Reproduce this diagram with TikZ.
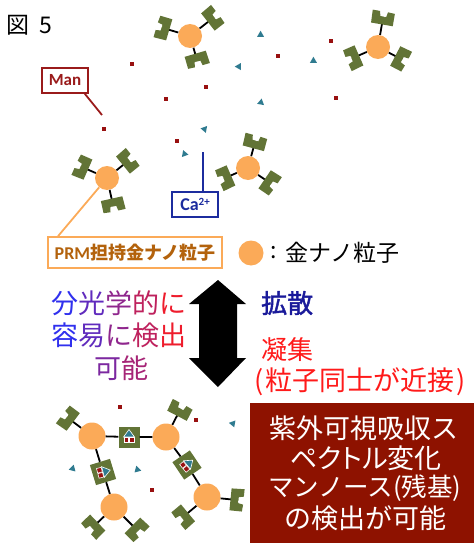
\documentclass[tikz,border=0pt]{standalone}
\usepackage{fontspec}
\usetikzlibrary{calc}
\newfontfamily\jp{Noto Sans CJK JP}
\newfontfamily\jpsb[FakeBold=1.6]{Noto Sans CJK JP}
\newfontfamily\jpp[RawFeature=+palt]{Noto Sans CJK JP}
\newfontfamily\lat{Carlito}
\definecolor{gold}{HTML}{FBAA58}
\definecolor{leaf}{HTML}{627436}
\definecolor{cTeal}{HTML}{2F7B90}
\definecolor{cDot}{HTML}{981010}
\definecolor{cMan}{HTML}{9A1B1B}
\definecolor{cCa}{HTML}{1C2C9E}
\definecolor{cPRMtext}{HTML}{B3620C}
\definecolor{cNavy}{HTML}{1A1A9A}
\definecolor{cRed}{HTML}{FF1A1A}
\definecolor{cBox}{HTML}{8E1200}
\definecolor{gBlue}{HTML}{3030EE}
\definecolor{gRed}{HTML}{EE1C2C}
% colour one glyph of the blue-to-red gradient text
\newcommand\gc[2]{\textcolor{gRed!#1!gBlue}{#2}}
% stick from a gold particle to a lectin, lectin turned to face outwards
\newcommand\lectinarm[2]{%
  \draw[stick] (#1) -- (#2);
  \path let \p1=($(#2)-(#1.center)$), \n1={atan2(\y1,\x1)} in
    pic[rotate=\n1] at (#2) {lectin};
}
\tikzset{
  np/.style={circle,fill=gold,inner sep=0pt,minimum size=24pt},
  npbig/.style={np,minimum size=27pt},
  stick/.style={line width=1.8pt,black},
  txt/.style={inner sep=0pt},
  lbl/.style={draw,line width=1.8pt,inner sep=0pt,fill=white},
  cplx/.style={rectangle,fill=leaf,minimum size=21pt,inner sep=0pt},
  lectin/.pic={
    \fill[leaf] (-6.5,-11) -- (6.5,-11.5) -- (6.5,-4) -- (1.5,-3) -- (1.5,3)
      -- (6.5,4) -- (6,11) -- (-6.5,11) -- cycle;
    \fill[white] (2.5,1.5) circle (1.3);
  },
  mol/.pic={
    \path[fill=cTeal,draw=white,line width=0.6pt]
      (-5.5,0) -- (5.5,0) -- (0,-7.5) -- cycle;
    \path[fill=cDot,draw=white,line width=0.6pt] (-5,0.6) rectangle (-0.3,5.4);
    \path[fill=cDot,draw=white,line width=0.6pt] (0.3,0.6) rectangle (5,5.4);
  },
  ion/.pic={\fill[cTeal] (3.5,0) -- (-2.5,-3.5) -- (-2.5,3.5) -- cycle;}
}
\begin{document}
\begin{tikzpicture}[x=1pt,y=-1pt]
\useasboundingbox (0,0) rectangle (474,543);

\node[txt,anchor=west] (fig) at (6,25.5) {\jp\fontsize{23}{23}\selectfont 図\hspace{10pt}5};

% free mannose (dots) and calcium ions (triangles)
\foreach \x/\y in {132/64,206/87,166/99,104/129,177/141,278/56,331/41,336/98,
                   120/407,196/420,152/490}
  \fill[cDot] (\x,\y) ++(-2,-2) rectangle ++(4,4);
\foreach \x/\y/\a in {261/35/-30,313/61/210,239/67/-60,261/102/80,204/129/170,
                      185/154/-10,233/424/-70,73/469/-45,137/470/225}
  \pic[rotate=\a] at (\x,\y) {ion};

% dispersed PRM-modified gold nanoparticles
\node[np] (p1) at (190,36) {};
\coordinate (p1a) at (163,28); \coordinate (p1b) at (213,18); \coordinate (p1c) at (197,60);
\node[np] (p2) at (378,47) {};
\coordinate (p2a) at (383,18); \coordinate (p2b) at (353,58); \coordinate (p2c) at (401,59);
\node[np] (p3) at (107,178) {};
\coordinate (p3a) at (82,167); \coordinate (p3b) at (128,161); \coordinate (p3c) at (113,205);
\node[np] (p4) at (248,168) {};
\coordinate (p4a) at (255,142); \coordinate (p4b) at (225,178); \coordinate (p4c) at (270,183);
\foreach \q in {p1,p2,p3,p4}{
  \lectinarm{\q}{\q a}\lectinarm{\q}{\q b}\lectinarm{\q}{\q c}
}

% labels
\node[lbl,draw=cMan,text=cMan,minimum width=46pt,minimum height=25pt] (man) at (65,80.5)
  {\lat\bfseries\fontsize{17}{17}\selectfont Man};
\coordinate (manend) at (102,115);
\draw[cMan,line width=1.8pt] ([xshift=-4pt]man.south east) -- (manend);

\node[lbl,draw=cCa,text=cCa,minimum width=46pt,minimum height=25pt] (ca) at (195,204.5)
  {\lat\bfseries\fontsize{18}{18}\selectfont Ca\raisebox{5pt}{\fontsize{11}{11}\selectfont 2+}};
\coordinate (caend) at (203,152);
\draw[cCa,line width=1.8pt] (caend) -- (caend |- ca.north);

\node[lbl,draw=gold,minimum width=174pt,minimum height=31pt] (prm) at (135,252.5)
  {\color{cPRMtext}\bfseries\fontsize{18}{18}\selectfont{\lat PRM}{\jp 担持金ナノ粒子}};
\draw[gold,line width=1.8pt] ([xshift=11pt]prm.north west) -- (p3);

% legend
\node[np,minimum size=25pt] (lg) at (251,253) {};
\node[txt] (lgcolon) at (274,253) {\jp\fontsize{23}{23}\selectfont :};
\node[txt,anchor=west] (lgtext) at (285,253) {\jp\fontsize{23}{23}\selectfont 金ナノ粒子};

% double arrow
\fill (218,280) -- (246,304) -- (237,304) -- (237,358) -- (246,358) -- (218,387)
  -- (189,358) -- (199,358) -- (199,304) -- (189,304) -- cycle;

% left caption, blue to red
\node[txt] (opt1) at (119,303) {\jp\fontsize{27}{27}\selectfont
  \gc{0}{分}\gc{25}{光}\gc{50}{学}\gc{75}{的}\gc{100}{に}};
\node[txt] (opt2) at (119,335) {\jp\fontsize{27}{27}\selectfont
  \gc{0}{容}\gc{25}{易}\gc{50}{に}\gc{75}{検}\gc{100}{出}};
\node[txt] (opt3) at (121,368) {\jp\fontsize{27}{27}\selectfont
  \gc{40}{可}\gc{62}{能}};

% right captions
\node[txt,anchor=west,text=cNavy] (diff) at (261,303) {\jpsb\fontsize{26}{26}\selectfont 拡散};
\node[txt,anchor=west,text=cRed] (aggr) at (261,350) {\jp\fontsize{26}{26}\selectfont 凝集};
\node[txt,anchor=west,text=cRed] (near) at (254,382)
  {\jp\fontsize{27}{27}\selectfont (\hspace{2pt}粒子同士が近接\hspace{2pt})};

% aggregated particles cross-linked by mannose / Ca complexes
\node[npbig] (A) at (92,436) {};
\node[npbig] (B) at (166,437) {};
\node[npbig] (C) at (114,507) {};
\node[npbig] (D) at (207,497) {};
\node[cplx] (s1) at (129,437) {};
\node[cplx,rotate=17] (s2) at (103,472) {};
\node[cplx,rotate=34] (s3) at (187,465) {};
\draw[stick] (A) -- (s1) -- (B);
\draw[stick] (A) -- (s2) -- (C);
\draw[stick] (B) -- (s3) -- (D);
\pic at (s1) {mol};
\pic[rotate=-75] at (s2) {mol};
\pic[rotate=-50] at (s3) {mol};
\coordinate (Aa) at (68,418);
\coordinate (Ba) at (180,410);
\coordinate (Ca) at (93,527); \coordinate (Cb) at (137,530);
\coordinate (Da) at (183,517); \coordinate (Db) at (237,500);
\lectinarm{A}{Aa}\lectinarm{B}{Ba}
\lectinarm{C}{Ca}\lectinarm{C}{Cb}
\lectinarm{D}{Da}\lectinarm{D}{Db}

% result box
\node[fill=cBox,minimum width=224pt,minimum height=140pt,inner sep=0pt] (res) at (362,473) {};
\node[txt,text=white] (r1) at (364,428) {\jp\fontsize{27}{27}\selectfont 紫外可視吸収ス};
\node[txt,text=white] (r2) at (366,458) {\jpp\fontsize{27}{27}\selectfont ペクトル変化};
\node[txt,text=white] (r3) at (365,488)
  {\jp\fontsize{25.5}{25.5}\selectfont マンノース(残基)};
\node[txt,text=white] (r4) at (365,518) {\jp\fontsize{27}{27}\selectfont の検出が可能};
\end{tikzpicture}
\end{document}
